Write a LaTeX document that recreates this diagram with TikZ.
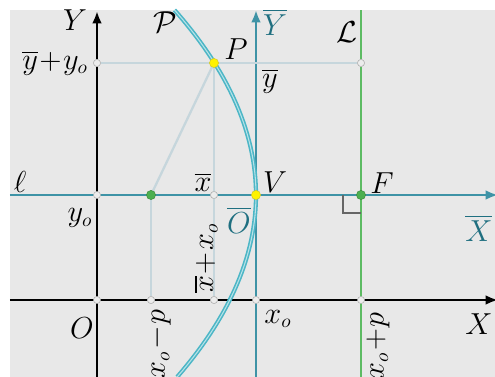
\documentclass[tikz,border=0pt]{standalone}
\usepackage{amsmath,amssymb}
\usetikzlibrary{arrows,arrows.meta}

\definecolor{bgray}{HTML}{E8E8E8}
\definecolor{tealax}{HTML}{3E93A6}
\definecolor{parcol}{HTML}{4CB6C6}
\definecolor{greenl}{HTML}{5DBB63}
\definecolor{thinl}{HTML}{C6D6DC}
\definecolor{tealtxt}{HTML}{1F6F80}
\definecolor{dotgreen}{HTML}{4CAF50}

\begin{document}
\begin{tikzpicture}[font=\fontsize{16}{19}\selectfont,
  axis/.style={line width=1.4pt, black, -{Latex[length=7pt,width=5.5pt]}},
  baraxis/.style={line width=1.4pt, tealax, -{Latex[length=7pt,width=5.5pt]}},
  thin line/.style={line width=1.3pt, thinl},
  dot/.style={circle, inner sep=0pt, minimum size=4pt, fill=white!85!gray, draw=gray!60, line width=0.3pt},
  bigdot/.style={circle, inner sep=0pt, minimum size=5.2pt, draw=#1!80!black, line width=0.3pt, fill=#1},
  lbl/.style={inner sep=1pt}]
\useasboundingbox (-1.94,-1.54) rectangle (7.96,6.0);
\fill[bgray] (-1.74,-1.54) rectangle (7.96,5.8);

% points
\coordinate (O) at (0,0);
\coordinate (Ytop) at (0,5.78);
\coordinate (Ybot) at (0,-1.54);
\coordinate (Xl) at (-1.74,0);
\coordinate (Xr) at (8.02,0);
\coordinate (lL) at (-1.74,2.1);
\coordinate (lR) at (8.02,2.1);
\coordinate (Ybt) at (3.18,5.8);
\coordinate (Ybb) at (3.18,-1.54);
\coordinate (Lt) at (5.28,5.8);
\coordinate (Lb) at (5.28,-1.54);

\draw[baraxis] (lL) -- (lR);
\draw[baraxis] (Ybb) -- (Ybt);
\draw[line width=1.3pt, greenl] (Lb) -- (Lt);
\draw[axis] (Xl) -- (Xr);
\draw[axis] (Ybot) -- (Ytop);

% thin lines
\node[dot] (A) at (0,4.74) {};
\node[dot] (B) at (5.28,4.74) {};
\node[dot] (C) at (0,2.1) {};
\node[dot] (D) at (2.34,2.1) {};
\node[dot] (E) at (1.08,0) {};
\node[dot] (G) at (2.34,0) {};
\node[dot] (H) at (3.18,0) {};
\node[dot] (K) at (5.28,0) {};
\node[dot] (O1) at (0,0) {};
\coordinate (P0) at (2.34,4.74);
\coordinate (F0) at (1.08,2.1);

\draw[thin line] (A) -- (B);
\draw[thin line] (P0) -- (F0);
\draw[thin line] (P0) -- (G);
\draw[thin line] (F0) -- (E);
\node[dot] at (A) {};
\node[dot] at (B) {};
\node[dot] at (D) {};
\node[dot] at (E) {};
\node[dot] at (G) {};

% parabola
\draw[line width=2.4pt, parcol] plot[domain=-3.64:3.7, samples=60] ({3.18-\x*\x/8.4},{2.1+\x});
\draw[line width=0.6pt, white!60!parcol] plot[domain=-3.64:3.7, samples=60] ({3.18-\x*\x/8.4},{2.1+\x});

% right angle
\draw[line width=1.2pt, black!60] (4.92,2.1) -- (4.92,1.74) -- (5.28,1.74);

\node[bigdot=yellow] (P) at (P0) {};
\node[bigdot=yellow] (V) at (3.18,2.1) {};
\node[bigdot=dotgreen] (Fo) at (F0) {};
\node[bigdot=dotgreen] (F) at (5.28,2.1) {};

% labels
\node[lbl] (tY) at (-0.44,5.6) {$Y$};
\node[lbl] (tPc) at (1.36,5.56) {$\mathcal{P}$};
\node[lbl] (tP) at (2.78,5.02) {$P$};
\node[lbl, text=tealtxt] (tYb) at (3.56,5.56) {$\overline{Y}$};
\node[lbl] (tL) at (5.0,5.36) {$\mathcal{L}$};
\node[lbl, anchor=east] (tyy) at (-0.14,4.74) {$\overline{y}\!+\!y_o$};
\node[lbl] (tyb) at (3.46,4.38) {$\overline{y}$};
\node[lbl] (tl) at (-1.54,2.36) {$\ell$};
\node[lbl] (txb) at (2.12,2.36) {$\overline{x}$};
\node[lbl] (tV) at (3.56,2.36) {$V$};
\node[lbl] (tF) at (5.7,2.34) {$F$};
\node[lbl] (tyo) at (-0.34,1.64) {$y_o$};
\node[lbl, text=tealtxt] (tOb) at (2.84,1.6) {$\overline{O}$};
\node[lbl, text=tealtxt, anchor=east] (tXb) at (7.95,1.44) {$\overline{X}$};
\node[lbl] (tO) at (-0.3,-0.56) {$O$};
\node[lbl] (txo) at (3.62,-0.38) {$x_o$};
\node[lbl, anchor=east] (tX) at (7.95,-0.48) {$X$};
\node[lbl, rotate=90] (txmp) at (1.24,-0.88) {$x_o\!-\!p$};
\node[lbl, rotate=90] (txbx) at (2.18,0.84) {$\overline{x}\!+\!x_o$};
\node[lbl, rotate=90] (txpp) at (5.62,-0.92) {$x_o\!+\!p$};
\end{tikzpicture}
\end{document}
